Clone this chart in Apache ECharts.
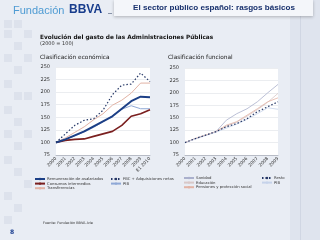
<!DOCTYPE html>
<html lang="es">
<head>
<meta charset="UTF-8">
<title>Evolución del gasto</title>
<style>
  body { margin: 0; padding: 0; background: #e9edf4; }
  #chart { width: 320px; height: 240px; }
</style>
<script src="https://cdn.jsdelivr.net/npm/echarts@6/dist/echarts.min.js"></script>
</head>
<body>
<div id="chart"></div>
<script>
// clasificación económica
var yearsEco = ['2000','2001','2002','2003','2004','2005','2006','2007','2008','2009','E1 2010'];
var remuneracion = [100, 106, 114, 122, 132, 142, 152, 167, 182, 191, 190];
var consumos     = [100, 104, 106, 107, 112, 117, 122, 134, 152, 157, 165];
var transferencias = [100, 109, 120, 131, 145, 157, 174, 184, 198, 218, 218];
var fbc          = [100, 117, 134, 144, 147, 164, 195, 214, 216, 238, 221];
var pibEco       = [100, 106, 113, 121, 130, 141, 153, 166, 173, 167, 167];

// clasificación funcional
var yearsFun = ['2000','2001','2002','2003','2004','2005','2006','2007','2008','2009'];
var sanidad   = [100, 108, 115, 122, 145, 158, 168, 182, 200, 217];
var educacion = [100, 108, 115, 122, 133, 141, 153, 166, 181, 199];
var pensiones = [100, 108, 115, 122, 135, 142, 155, 168, 182, 190];
var resto     = [100, 108, 115, 122, 132, 138, 148, 162, 172, 182];
var pibFun    = [100, 107, 114, 121, 129, 137, 147, 158, 170, 167];

var yTicks = [75, 250, 25]; // min, max, interval

var chart = echarts.init(document.getElementById('chart'));

function xAx(idx, data) {
  return {
    type: 'category', gridIndex: idx, data: data, boundaryGap: false,
    axisLine: { lineStyle: { color: '#b8bcc6' } },
    axisTick: { show: false },
    axisLabel: { rotate: 45, fontSize: 4.5, color: '#333', margin: 3, interval: 0, fontFamily: 'DejaVu Sans' }
  };
}
function yAx(idx) {
  return {
    type: 'value', gridIndex: idx, min: yTicks[0], max: yTicks[1], interval: yTicks[2],
    axisLine: { show: false }, axisTick: { show: false },
    splitLine: { lineStyle: { color: '#dde0e6', width: 0.6 } },
    axisLabel: { fontSize: 5, color: '#333', margin: 6, fontFamily: 'DejaVu Sans' }
  };
}
function ln(name, data, idx, color, width, dashed) {
  return {
    name: name, type: 'line', data: data, xAxisIndex: idx, yAxisIndex: idx,
    symbol: 'none', smooth: false, silent: true,
    lineStyle: { color: color, width: width, type: dashed ? [1.5, 2] : 'solid' },
    itemStyle: { color: color }
  };
}
function lg(names, left, top) {
  return {
    data: names, orient: 'vertical', left: left, top: top,
    itemWidth: 10, itemHeight: 3, itemGap: 0.6, padding: 0,
    textStyle: { fontSize: 3.8, color: '#333', fontFamily: 'DejaVu Sans', padding: [0, 0, 0, -3] }
  };
}

var txt = function (x, y, s, size, color, weight, fam) {
  return { type: 'text', left: x, top: y, style: { text: s, fontSize: size, fill: color, fontWeight: weight || 'normal', fontFamily: fam || 'DejaVu Sans' } };
};

var deco = [];
var sq = [[4,20],[14,20],[4,30],[24,30],[14,42],[4,54],[24,54],[14,66],[4,80],[14,92],[24,92],[4,106],[14,118],[4,130],[24,130],[14,142],[4,156],[14,168],[24,180],[4,192],[14,204],[4,216]];
sq.forEach(function (p) {
  deco.push({ type: 'rect', shape: { x: p[0], y: p[1], width: 8, height: 8 }, style: { fill: '#dde2ec' }, silent: true });
});

chart.setOption({
  backgroundColor: '#e9edf4',
  animation: false,
  grid: [
    { left: 56, right: 170, top: 67, bottom: 85, show: true, backgroundColor: '#fff', borderWidth: 0 },
    { left: 185, right: 42, top: 68, bottom: 85, show: true, backgroundColor: '#fff', borderWidth: 0 }
  ],
  xAxis: [xAx(0, yearsEco), xAx(1, yearsFun)],
  yAxis: [yAx(0), yAx(1)],
  legend: [
    lg(['Remuneración de asalariados', 'Consumos intermedios', 'Transferencias'], 34, 177),
    lg(['FBC + Adquisiciones netas', 'PIB'], 110, 177),
    lg(['Sanidad', 'Educación', 'Pensiones y protección social'], 183, 176),
    lg(['Resto', 'PIB '], 261, 176)
  ],
  series: [
    ln('Transferencias', transferencias, 0, '#e2b3a5', 1, false),
    ln('PIB', pibEco, 0, '#8fa8d6', 1, false),
    ln('Consumos intermedios', consumos, 0, '#7a1f1f', 1.6, false),
    ln('Remuneración de asalariados', remuneracion, 0, '#1c3f86', 2, false),
    ln('FBC + Adquisiciones netas', fbc, 0, '#253766', 1.2, true),
    ln('Sanidad', sanidad, 1, '#aab0cc', 0.8, false),
    ln('Educación', educacion, 1, '#d8c8c8', 0.8, false),
    ln('Pensiones y protección social', pensiones, 1, '#e2b3a5', 0.8, false),
    ln('PIB ', pibFun, 1, '#c6d3ea', 0.8, false),
    ln('Resto', resto, 1, '#253766', 1.2, true)
  ],
  graphic: deco.concat([
    { type: 'rect', shape: { x: 290, y: 0, width: 30, height: 240 }, style: { fill: '#dfe4ee' }, silent: true },
    { type: 'rect', shape: { x: 300, y: 0, width: 1, height: 240 }, style: { fill: '#d0d6e3' }, silent: true },
    { type: 'rect', shape: { x: 114, y: 0, width: 199, height: 16 }, style: { fill: '#f4f6fa', shadowBlur: 3, shadowColor: 'rgba(0,0,0,0.25)', shadowOffsetY: 1 }, silent: true },
    { type: 'rect', shape: { x: 108, y: 13, width: 4, height: 1 }, style: { fill: '#8893a8' }, silent: true },
    txt(13, 5, 'Fundación', 11, '#4e9bd3', 'normal', 'Liberation Sans'),
    txt(69, 4, 'BBVA', 12, '#173c8c', 'bold', 'Liberation Sans'),
    txt(133, 4, 'El sector público español: rasgos básicos', 8.1, '#162f6c', 'bold', 'Liberation Sans'),
    txt(40, 34, 'Evolución del gasto de las Administraciones Públicas', 5.8, '#111', 'bold'),
    txt(40, 41, '(2000 = 100)', 5, '#333'),
    txt(40, 54, 'Clasificación económica', 5.8, '#222'),
    txt(168, 54, 'Clasificación funcional', 5.8, '#222'),
    txt(43, 221, 'Fuente: Fundación BBVA-Ivie', 3.5, '#333'),
    txt(10, 229, '8', 6, '#1a3d8f', 'bold')
  ])
});
</script>
</body>
</html>
